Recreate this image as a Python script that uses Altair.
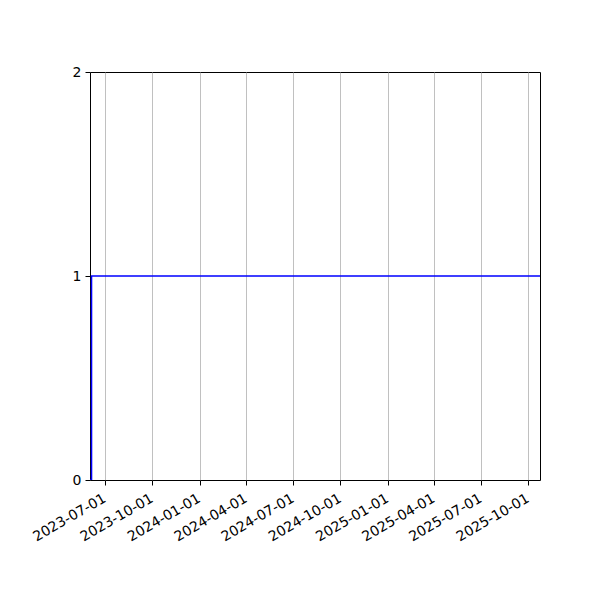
import pandas as pd
import altair as alt

dates = ["2023-06-02", "2023-06-05", "2025-10-24"]
counts = [0, 1, 1]
tick_dates = ["2023-07-01", "2023-10-01", "2024-01-01", "2024-04-01", "2024-07-01",
              "2024-10-01", "2025-01-01", "2025-04-01", "2025-07-01", "2025-10-01"]

df = pd.DataFrame({"date": dates, "count": counts})

tick_vals = [
    alt.DateTime(year=int(d[:4]), month=int(d[5:7]), date=int(d[8:]), utc=True)
    for d in tick_dates
]

chart = alt.Chart(df).mark_line(
    interpolate="step-after", color="#0000ff", strokeWidth=1.5, clip=True
).encode(
    x=alt.X("date:T", title=None,
            scale=alt.Scale(type="utc", domain=[dates[0], dates[-1]], nice=False),
            axis=alt.Axis(values=tick_vals, format="%Y-%m-%d", labelAngle=-30,
                          labelAlign="right", labelBaseline="top", grid=True,
                          gridColor="#b0b0b0", gridWidth=0.8,
                          labelOffset=-4, labelPadding=6)),
    y=alt.Y("count:Q", title=None,
            scale=alt.Scale(domain=[0, 2], nice=False, zero=True),
            axis=alt.Axis(tickCount=2, tickMinStep=1, format="d", grid=False,
                          labelPadding=4)),
).properties(
    width=450, height=408,
    autosize=alt.AutoSizeParams(type="none"),
    padding={"left": 82, "top": 64, "right": 52, "bottom": 112},
).configure_view(
    stroke="black", strokeWidth=1
).configure_axis(
    domain=False, tickColor="black", tickSize=5, tickWidth=1,
    labelColor="black", labelFont="DejaVu Sans", labelFontSize=14,
    labelOverlap=False, labelFlush=False,
)

chart.save("out.html", embed_options={"renderer": "svg", "actions": False})
